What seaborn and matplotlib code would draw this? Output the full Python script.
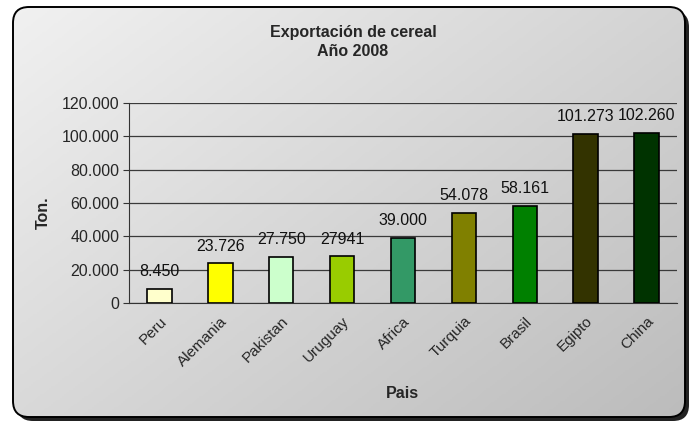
import numpy as np
import pandas as pd
import seaborn as sns
import matplotlib.pyplot as plt
from matplotlib.patches import FancyBboxPatch

# datos del grafico
paises = ["Peru", "Alemania", "Pakistan", "Uruguay", "Africa",
          "Turquia", "Brasil", "Egipto", "China"]
toneladas = [8450, 23726, 27750, 27941, 39000, 54078, 58161, 101273, 102260]
etiquetas = ["8.450", "23.726", "27.750", "27941", "39.000",
             "54.078", "58.161", "101.273", "102.260"]
colores = ["#FFFFCC", "#FFFF00", "#CCFFCC", "#99CC00", "#339966",
           "#808000", "#008000", "#333300", "#003300"]
ticks_y = [0, 20000, 40000, 60000, 80000, 100000, 120000]
ticks_y_txt = ["0", "20.000", "40.000", "60.000", "80.000", "100.000", "120.000"]

df = pd.DataFrame({"Pais": paises, "Ton": toneladas})

sns.set_style("white")
plt.rcParams["font.family"] = ["Liberation Sans", "DejaVu Sans"]

W, H = 696, 423
fig = plt.figure(figsize=(W / 100, H / 100), dpi=100)

# fondo redondeado con degradado
bg = fig.add_axes([0, 0, 1, 1], zorder=-1)
bg.set_xlim(0, W)
bg.set_ylim(H, 0)
bg.axis("off")
sombra = FancyBboxPatch((17, 11), 672, 410, boxstyle="round,pad=0,rounding_size=16",
                        fc="#222222", ec="none", transform=bg.transData)
bg.add_patch(sombra)
caja = FancyBboxPatch((13, 7), 672, 410, boxstyle="round,pad=0,rounding_size=16",
                      fc="none", ec="black", lw=1.4, transform=bg.transData)
yy, xx = np.mgrid[0:1:200j, 0:1:300j]
grad = 0.55 * xx + 0.45 * yy
img = bg.imshow(grad, extent=(13, 685, 417, 7), cmap=sns.light_palette("#BCBCBC", as_cmap=True),
                vmin=0, vmax=1, aspect="auto", zorder=1)
fondo = FancyBboxPatch((13, 7), 672, 410, boxstyle="round,pad=0,rounding_size=16",
                       fc="none", ec="none", transform=bg.transData)
bg.add_patch(fondo)
img.set_clip_path(fondo)
caja.set_zorder(2)
bg.add_patch(caja)

# area del grafico
ax = fig.add_axes([129 / W, 1 - 303 / H, 548 / W, 200 / H])
ax.patch.set_alpha(0)
sns.barplot(data=df, x="Pais", y="Ton", hue="Pais", palette=colores, legend=False,
            saturation=1, width=0.4, edgecolor="black", linewidth=1.2, ax=ax, zorder=3)

for cont, txt in zip(ax.containers, etiquetas):
    ax.bar_label(cont, labels=[txt], padding=7, fontsize=11.5, color="#111111")

ax.set_ylim(0, 120000)
ax.set_xlim(-0.5, len(paises) - 0.5)
ax.set_yticks(ticks_y)
ax.set_yticklabels(ticks_y_txt, fontsize=11.5)
ax.yaxis.grid(True, color="#3a3a3a", lw=0.9, zorder=0)
ax.set_axisbelow(True)
ax.set_xticks(range(len(paises)))
ax.set_xticklabels(paises, rotation=45, ha="right", rotation_mode="anchor", fontsize=11)
ax.set_xticks(np.arange(-0.5, len(paises), 1), minor=True)
ax.tick_params(axis="x", which="major", length=0, pad=8)
ax.tick_params(axis="x", which="minor", length=4, direction="out", color="#333333")
ax.tick_params(axis="y", length=4, direction="out", color="#333333", pad=3, left=True)
for s in ["top", "right"]:
    ax.spines[s].set_visible(False)
ax.spines["left"].set_color("#333333")
ax.spines["bottom"].set_color("#333333")
ax.set_xlabel("")
ax.set_ylabel("")

fig.text(353 / W, 1 - 32 / H, "Exportación de cereal", ha="center", va="center",
         fontsize=11.5, fontweight="bold")
fig.text(353 / W, 1 - 51 / H, "Año 2008", ha="center", va="center",
         fontsize=11.5, fontweight="bold")
fig.text(43 / W, 1 - 213 / H, "Ton.", ha="center", va="center", rotation=90,
         fontsize=11.5, fontweight="bold")
fig.text(402 / W, 1 - 393 / H, "Pais", ha="center", va="center",
         fontsize=11.5, fontweight="bold")

fig.savefig("out.png", dpi=100)
plt.close(fig)
